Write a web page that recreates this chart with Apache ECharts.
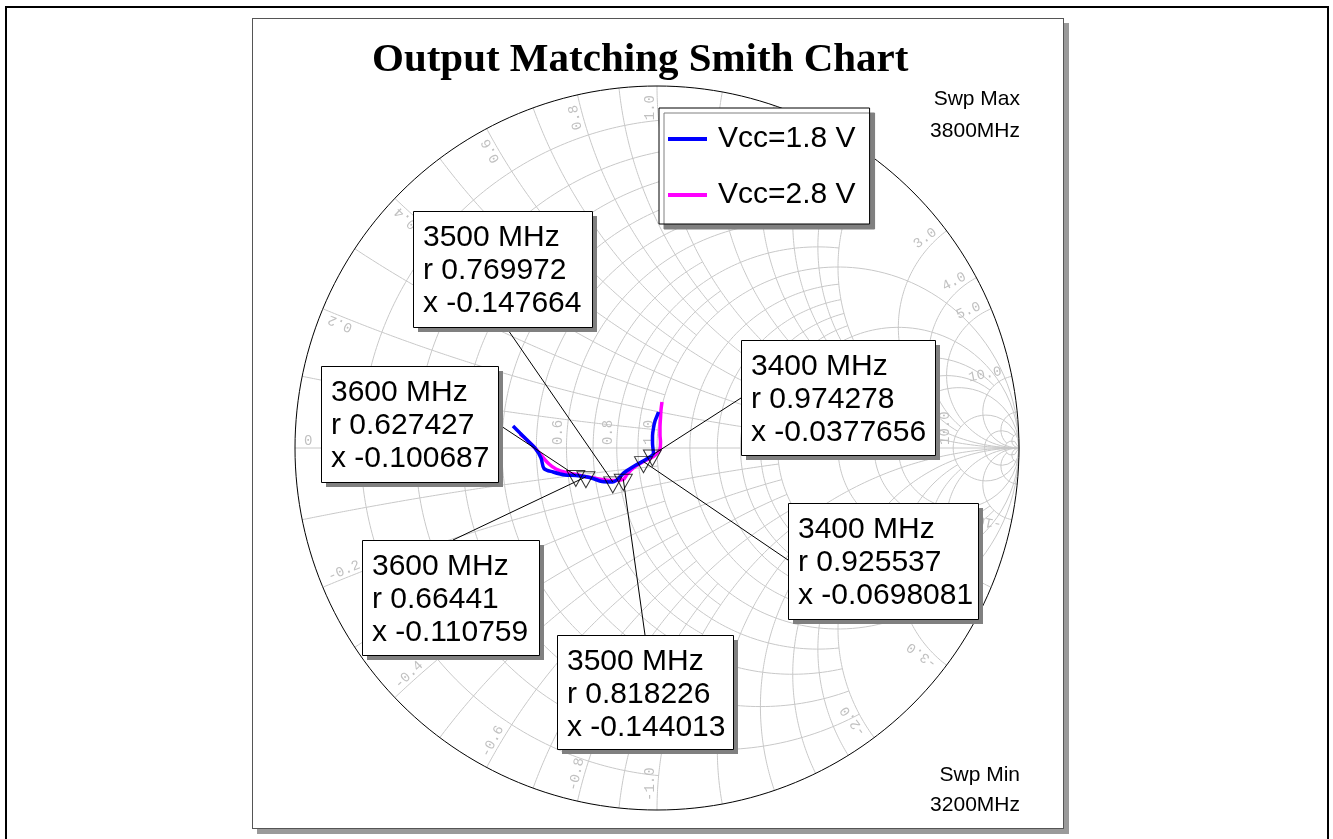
<!DOCTYPE html>
<html>
<head>
<meta charset="utf-8">
<script src="https://cdn.jsdelivr.net/npm/echarts@6/dist/echarts.min.js"></script>
<style>
  html, body { margin: 0; padding: 0; background: #fff; }
  #page { position: relative; width: 1333px; height: 839px; overflow: hidden; }
  #frame { position: absolute; left: 5px; top: 6px; width: 1320px; height: 845px; border: 2px solid #000; }
  #panel { position: absolute; left: 252px; top: 18px; width: 810px; height: 809px;
           border: 1px solid #555; box-shadow: 5px 5px 0 #9a9a9a; background: #fff; }
  #chart { position: absolute; left: 0; top: 0; width: 1333px; height: 839px; }
</style>
</head>
<body>
<div id="page">
  <div id="frame"></div>
  <div id="panel"></div>
  <div id="chart"></div>
</div>
<script>
// ---- Sweep (MHz) ----
const freqs = [3200, 3225, 3250, 3275, 3300, 3325, 3350, 3375, 3400, 3425, 3450, 3475, 3500,
               3525, 3550, 3575, 3600, 3625, 3650, 3675, 3700, 3725, 3750, 3775, 3800];

// ---- Output reflection coefficient, real / imaginary ----
const s22Re18 = [0.0041, 0.0000, -0.0055, -0.0097, -0.0124, -0.0124, -0.0110, -0.0097, -0.0127,
                 -0.0331, -0.0580, -0.0884, -0.1222, -0.1519, -0.1768, -0.2003, -0.2242,
                 -0.2541, -0.2873, -0.3122, -0.3204, -0.3370, -0.3591, -0.3785, -0.3978];
const s22Im18 = [0.0994, 0.0884, 0.0746, 0.0552, 0.0331, 0.0138, -0.0028, -0.0138, -0.0194,
                 -0.0331, -0.0470, -0.0663, -0.0936, -0.0925, -0.0843, -0.0787, -0.0757,
                 -0.0746, -0.0663, -0.0566, -0.0276, 0.0000, 0.0221, 0.0414, 0.0608];
const s22Re28 = [0.0138, 0.0110, 0.0097, 0.0083, 0.0083, 0.0097, 0.0083, -0.0083, -0.0373,
                 -0.0580, -0.0718, -0.0829, -0.0931, -0.1243, -0.1519, -0.1740, -0.1963,
                 -0.2210, -0.2514, -0.2790, -0.2983, -0.3204, -0.3398, -0.3591, -0.3785];
const s22Im28 = [0.1271, 0.1050, 0.0829, 0.0580, 0.0359, 0.0166, -0.0028, -0.0221, -0.0376,
                 -0.0497, -0.0608, -0.0732, -0.0866, -0.0898, -0.0870, -0.0829, -0.0796,
                 -0.0732, -0.0677, -0.0580, -0.0442, -0.0193, 0.0028, 0.0221, 0.0387];

// ---- Marker readouts (normalized impedance) ----
const markerFreqs = [3400, 3500, 3600];
const markerR18 = [0.974278, 0.769972, 0.627427];
const markerX18 = [-0.0377656, -0.147664, -0.100687];
const markerR28 = [0.925537, 0.818226, 0.66441];
const markerX28 = [-0.0698081, -0.144013, -0.110759];

// ---- Smith grid: circle value and how far (in the other coordinate) it is drawn ----
const gridR      = [0.1, 0.2, 0.3, 0.4, 0.5, 0.6, 0.7, 0.8, 0.9, 1.0, 1.2, 1.4, 1.6, 1.8, 2.0, 3.0, 4.0, 5.0, 10, 20, 50];
const gridRReach = [1,   2,   1,   2,   1,   2,   1,   2,   1,   Infinity, 2, 2, 2, 2, Infinity, 10, 10, Infinity, Infinity, 50, Infinity];
const gridX      = [0.1, 0.2, 0.3, 0.4, 0.5, 0.6, 0.7, 0.8, 0.9, 1.0, 1.2, 1.4, 1.6, 1.8, 2.0, 3.0, 4.0, 5.0, 10, 20, 50];
const gridXReach = [1,   2,   1,   2,   1,   2,   1,   2,   1,   Infinity, 2, 2, 2, 2, Infinity, 10, 10, Infinity, Infinity, 50, Infinity];

// ---- Grid tick labels ----
const rLabels = [0.2, 0.4, 0.6, 0.8, 1.0, 2.0, 3.0, 4.0, 5.0, 10.0];
const xLabels = [0, 0.2, 0.4, 0.6, 0.8, 1.0, 2.0, 3.0, 4.0, 5.0, 10.0,
                 -0.2, -0.4, -0.6, -0.8, -1.0, -2.0, -3.0, -4.0, -5.0, -10.0];

// z = r + jx  ->  reflection coefficient
function gamma(r, x) {
  const d = (r + 1) * (r + 1) + x * x;
  return [(r * r + x * x - 1) / d, 2 * x / d];
}

const N = 240;
const HALF = Math.PI / 2 - 1e-9;
function rCircle(r, reach) {
  const lim = isFinite(reach) ? Math.atan(reach) : HALF;
  const pts = [];
  for (let i = 0; i <= N; i++) pts.push(gamma(r, Math.tan(-lim + 2 * lim * i / N)));
  return pts;
}
function xArc(x, reach) {
  const lim = isFinite(reach) ? Math.atan(reach) : HALF;
  const pts = [];
  for (let i = 0; i <= N; i++) pts.push(gamma(Math.tan(lim * i / N), x));
  return pts;
}

const gridStyle = { color: '#c8c8c8', width: 1 };
function gridSeries(data, style) {
  return { type: 'line', data, showSymbol: false, silent: true, animation: false,
           z: 1, lineStyle: style || gridStyle, clip: false };
}

const series = [];
gridR.forEach((r, i) => series.push(gridSeries(rCircle(r, gridRReach[i]))));
gridX.forEach((x, i) => {
  series.push(gridSeries(xArc(x, gridXReach[i])));
  series.push(gridSeries(xArc(-x, gridXReach[i])));
});
series.push(gridSeries([[-1, 0], [1, 0]]));
series.push(gridSeries(rCircle(0, Infinity), { color: '#000', width: 1 }));

function trace(re, im) { return re.map((v, i) => [v, im[i]]); }
series.push({ name: 'Vcc=2.8 V', type: 'line', data: trace(s22Re28, s22Im28), showSymbol: false,
              smooth: 0.3, lineStyle: { color: '#ff00ff', width: 3.5 }, itemStyle: { color: '#ff00ff' },
              z: 3, animation: false, silent: true });
series.push({ name: 'Vcc=1.8 V', type: 'line', data: trace(s22Re18, s22Im18), showSymbol: false,
              smooth: 0.3, lineStyle: { color: '#0000ff', width: 3.5 }, itemStyle: { color: '#0000ff' },
              z: 3, animation: false, silent: true });

const mk18 = markerR18.map((r, i) => gamma(r, markerX18[i]));
const mk28 = markerR28.map((r, i) => gamma(r, markerX28[i]));
const markerStyle = { type: 'scatter', symbol: 'path://M0,0 L20,0 L10,18 Z', symbolSize: [18, 16],
                      symbolOffset: [0, 3], itemStyle: { color: 'rgba(0,0,0,0)', borderColor: '#000', borderWidth: 1 },
                      z: 5, animation: false, silent: true };
series.push(Object.assign({ data: mk18 }, markerStyle));
series.push(Object.assign({ data: mk28 }, markerStyle));

const chart = echarts.init(document.getElementById('chart'), null, { renderer: 'canvas' });
chart.setOption({
  animation: false,
  backgroundColor: 'transparent',
  title: {
    text: 'Output Matching Smith Chart', left: 367, top: 35,
    textStyle: { fontFamily: 'Liberation Serif', fontWeight: 'bold', fontSize: 41, color: '#000' }
  },
  legend: {
    orient: 'vertical', left: 659, top: 108,
    data: ['Vcc=1.8 V', 'Vcc=2.8 V'],
    backgroundColor: '#fff', borderColor: '#000', borderWidth: 1,
    shadowColor: '#808080', shadowOffsetX: 5, shadowOffsetY: 5, shadowBlur: 0.01,
    padding: [16, 14, 14, 9], itemGap: 26, itemWidth: 39, itemHeight: 4, icon: 'rect',
    textStyle: { fontSize: 30, fontFamily: 'Liberation Sans', color: '#000', padding: [0, 0, 0, 6] }
  },
  grid: { left: 295, top: 86, width: 724, height: 724 },
  xAxis: { type: 'value', min: -1, max: 1, show: false },
  yAxis: { type: 'value', min: -1, max: 1, show: false },
  series
});

// ---- Overlay: grid labels, readout boxes, leaders, sweep notes ----
const px = p => chart.convertToPixel({ gridIndex: 0 }, p);
const graphics = [];
const labelFont = '14px "Liberation Mono", "DejaVu Sans Mono", monospace';
function fmt(v) { return Number.isInteger(v) ? v.toFixed(1) : String(v); }

rLabels.forEach(r => {
  const p = px([(r - 1) / (r + 1), 0]);
  graphics.push({ type: 'text', x: p[0] - 1, y: p[1] - 3, rotation: Math.PI / 2, z: 2, silent: true,
    style: { text: fmt(r), font: labelFont, fill: '#c0c0c0',
             align: 'left', verticalAlign: 'bottom', textAlign: 'left', textVerticalAlign: 'bottom' } });
});
xLabels.forEach(x => {
  const g = gamma(0, x);
  let th = Math.atan2(g[1], g[0]);
  const upper = x > 0;
  if (!upper && x === 0) th = -Math.PI;
  const rad = 0.975;
  const p = px([rad * Math.cos(th), rad * Math.sin(th)]);
  const rot = upper ? th : th + Math.PI;
  graphics.push({ type: 'text', x: p[0], y: p[1], rotation: rot, z: 2, silent: true,
    style: { text: x === 0 ? '0' : fmt(x), font: labelFont, fill: '#c0c0c0',
             align: upper ? 'right' : 'left', verticalAlign: 'bottom',
             textAlign: upper ? 'right' : 'left', textVerticalAlign: 'bottom' } });
});

// Readout boxes: which marker, box rectangle, and where its leader meets the box
const boxes = [
  { set: 18, i: 1, x: 413, y: 211, w: 179, h: 116, ax: 506, ay: 327 },
  { set: 18, i: 2, x: 321, y: 366, w: 177, h: 116, ax: 498, ay: 424 },
  { set: 18, i: 0, x: 741, y: 340, w: 194, h: 115, ax: 741, ay: 398 },
  { set: 28, i: 0, x: 788, y: 503, w: 190, h: 116, ax: 788, ay: 560 },
  { set: 28, i: 2, x: 362, y: 540, w: 177, h: 115, ax: 453, ay: 540 },
  { set: 28, i: 1, x: 557, y: 635, w: 176, h: 114, ax: 645, ay: 635 }
];
boxes.forEach(b => {
  const rr = b.set === 18 ? markerR18 : markerR28;
  const xx = b.set === 18 ? markerX18 : markerX28;
  const m = px(gamma(rr[b.i], xx[b.i]));
  graphics.push({ type: 'line', z: 4, silent: true,
    shape: { x1: m[0], y1: m[1], x2: b.ax, y2: b.ay }, style: { stroke: '#000', lineWidth: 1 } });
  graphics.push({ type: 'rect', z: 10, silent: true, shape: { x: b.x + 5, y: b.y + 5, width: b.w, height: b.h },
    style: { fill: '#808080' } });
  graphics.push({ type: 'rect', z: 11, silent: true, shape: { x: b.x + 0.5, y: b.y + 0.5, width: b.w, height: b.h },
    style: { fill: '#fff', stroke: '#000', lineWidth: 1 } });
  graphics.push({ type: 'text', z: 12, silent: true, x: b.x + 10, y: b.y + 10,
    style: { text: markerFreqs[b.i] + ' MHz\nr ' + rr[b.i] + '\nx ' + xx[b.i],
             font: '30px "Liberation Sans", Arial, sans-serif', fill: '#000', lineHeight: 33,
             align: 'left', verticalAlign: 'top', textAlign: 'left', textVerticalAlign: 'top' } });
});

const noteFont = '21px "Liberation Sans", Arial, sans-serif';
[['Swp Max', 99], ['3800MHz', 131], ['Swp Min', 775], ['3200MHz', 805]].forEach(t => {
  graphics.push({ type: 'text', z: 12, silent: true, x: 1020, y: t[1],
    style: { text: t[0], font: noteFont, fill: '#000', align: 'right', verticalAlign: 'middle',
             textAlign: 'right', textVerticalAlign: 'middle' } });
});

chart.setOption({ graphic: { elements: graphics } });
</script>
</body>
</html>
